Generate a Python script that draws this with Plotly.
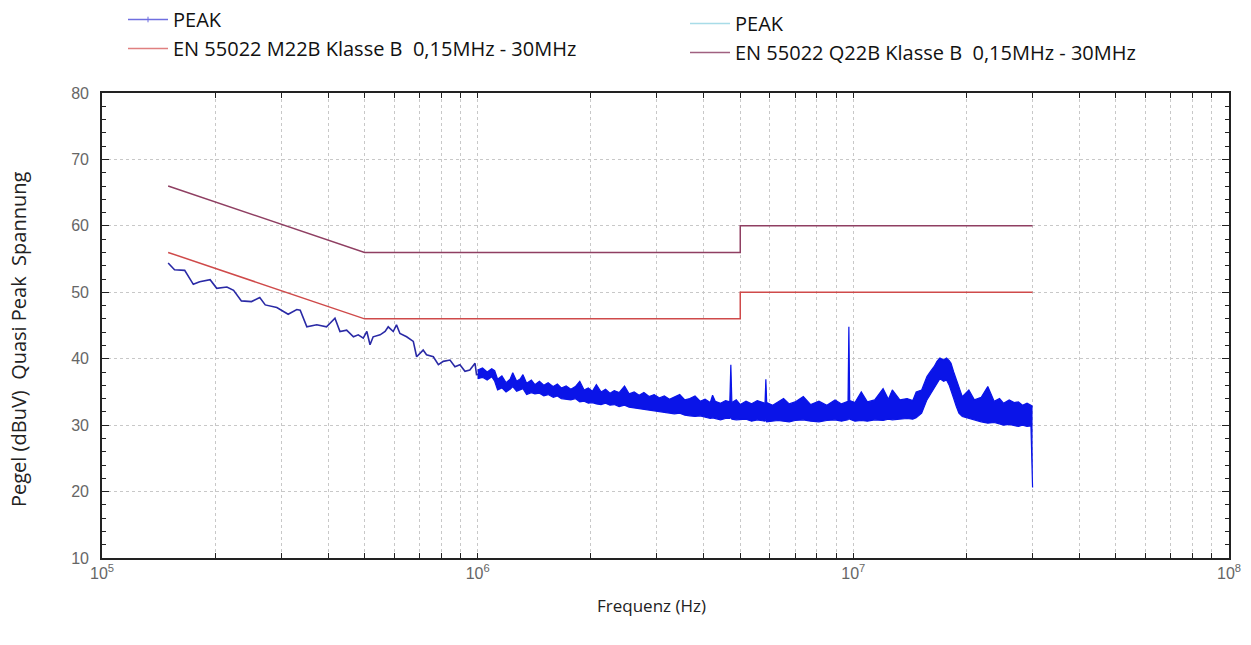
import plotly.graph_objects as go

# ---------------- data ----------------
# low-frequency part of the PEAK trace (kHz, dBuV)
lf_freq_khz = [150, 156, 166, 175, 182, 194, 202, 215, 224, 235, 250, 263, 272, 292, 313,
               330, 337, 351, 373, 396, 404, 417, 430, 448, 467, 481, 496, 507, 517, 527,
               550, 567, 578, 596, 608, 621, 647, 674, 688, 716, 731, 762, 786, 810, 844,
               870, 897, 925, 953, 984, 993, 1035, 1067]
lf_level = [54.4, 53.4, 53.3, 51.2, 51.6, 51.9, 50.6, 50.8, 50.3, 48.7, 48.6, 49.2, 48.1, 47.7, 46.7,
            47.4, 47.3, 44.8, 45.1, 44.8, 45.3, 46.1, 44.1, 44.3, 43.3, 43.6, 43.1, 44.1, 42.1, 43.3,
            43.6, 44.1, 44.8, 44.1, 45.1, 43.8, 43.3, 42.6, 40.3, 41.3, 40.6, 40.3, 39.1, 39.6, 39.8,
            38.8, 39.1, 38.1, 38.3, 39.3, 37.6, 37.7, 37.6]

# dense part of the PEAK trace: upper / lower envelope of the noise band (MHz, dBuV)
band_freq_mhz = [1.00, 1.03, 1.06, 1.09, 1.11, 1.13, 1.16, 1.19, 1.22, 1.24, 1.27, 1.30, 1.32, 1.35,
                 1.39, 1.42, 1.46, 1.50, 1.54, 1.59, 1.63, 1.67, 1.72, 1.77, 1.82, 1.87, 1.92, 1.97,
                 2.02, 2.07, 2.13, 2.19, 2.25, 2.31, 2.38, 2.46, 2.53, 2.61, 2.69, 2.77, 2.86, 2.95,
                 3.05, 3.14, 3.24, 3.34, 3.45, 3.56, 3.67, 3.79, 3.91, 4.03, 4.16, 4.22, 4.29, 4.43,
                 4.57, 4.69, 4.72, 4.75, 4.88, 5.00, 5.18, 5.36, 5.55, 5.82, 5.85, 5.88, 6.10, 6.30,
                 6.52, 6.75, 7.00, 7.36, 7.70, 8.10, 8.50, 8.94, 9.30, 9.68, 9.73, 9.78, 10.1, 10.5,
                 10.9, 11.4, 12.0, 12.4, 12.7, 13.3, 13.9, 14.4, 14.7, 15.2, 15.7, 16.1, 16.4, 16.7,
                 17.0, 17.4, 17.7, 18.0, 18.2, 18.5, 18.8, 19.1, 19.5, 20.3, 21.0, 21.9, 22.8, 23.7,
                 24.5, 25.1, 26.0, 26.8, 27.5, 28.2, 29.0, 29.7, 30.0]
band_hi = [38.3, 38.6, 38.0, 38.5, 38.2, 36.9, 37.4, 36.4, 36.9, 37.9, 36.6, 37.0, 37.6, 36.3,
           36.8, 36.1, 36.6, 36.0, 36.4, 35.8, 36.2, 35.6, 35.9, 35.4, 35.8, 36.6, 35.3, 35.6,
           35.1, 36.1, 35.0, 35.4, 34.8, 35.2, 34.9, 35.9, 34.7, 35.0, 34.5, 34.9, 34.3, 34.6,
           34.1, 34.4, 33.9, 34.2, 34.6, 33.8, 34.0, 34.4, 33.6, 33.9, 33.4, 34.5, 33.6, 33.3,
           33.7, 33.5, 39.1, 33.4, 33.8, 33.1, 33.6, 33.2, 33.7, 33.3, 36.9, 33.4, 33.0, 33.5,
           34.0, 33.2, 33.5, 34.3, 33.1, 33.6, 33.0, 33.8, 33.2, 33.6, 44.8, 33.7, 33.4, 35.0,
           33.5, 33.8, 35.5, 33.9, 35.3, 33.8, 34.0, 33.7, 35.0, 35.3, 37.3, 38.2, 38.8, 39.6,
           40.1, 39.8, 40.1, 39.7, 39.3, 38.0, 36.8, 35.5, 34.3, 35.3, 33.8, 34.2, 35.8, 33.6,
           34.0, 33.3, 33.8, 33.4, 33.5, 33.0, 33.3, 33.0, 32.8]
band_lo = [37.0, 37.2, 36.8, 37.3, 36.6, 35.3, 35.6, 35.0, 35.4, 35.8, 35.1, 35.4, 35.5, 34.6,
           34.9, 34.7, 34.8, 34.4, 34.6, 34.2, 34.4, 34.0, 33.9, 33.8, 34.0, 33.5, 33.6, 33.3,
           33.4, 33.2, 33.1, 33.3, 33.0, 33.1, 32.8, 33.0, 32.7, 32.6, 32.5, 32.4, 32.3, 32.2,
           32.1, 31.9, 31.8, 31.7, 31.8, 31.5, 31.4, 31.3, 31.4, 31.2, 31.0, 31.1, 31.0, 30.8,
           31.0, 31.0, 31.2, 30.9, 30.8, 30.8, 30.9, 30.6, 30.8, 30.6, 30.9, 30.5, 30.6, 30.7,
           30.6, 30.5, 30.7, 30.8, 30.6, 30.5, 30.7, 30.8, 30.6, 30.8, 31.0, 30.9, 30.6, 30.7,
           30.6, 30.8, 30.7, 30.9, 30.8, 30.9, 31.0, 30.9, 31.1, 31.8, 33.8, 34.8, 35.5, 36.2,
           37.0, 36.6, 36.8, 36.0, 35.3, 34.0, 32.8, 31.8, 31.3, 31.0, 30.8, 30.5, 30.3, 30.4,
           30.2, 30.0, 30.1, 29.9, 29.8, 30.0, 29.8, 29.9, 20.6]

# EN 55022 limit lines (MHz, dBuV)
limit_freq_mhz = [0.15, 0.5, 5.0, 5.0, 30.0]
limit_qp = [66, 56, 56, 60, 60]    # Q22B
limit_avg = [56, 46, 46, 50, 50]   # M22B

x_tick_decades = [1e5, 1e6, 1e7, 1e8]
y_ticks = [10, 20, 30, 40, 50, 60, 70, 80]

# ---------------- figure ----------------
BLUE_LF = "#2a2aa6"
BLUE_BAND = "#0a14e8"
RED = "#cf4a4a"
PURPLE = "#8f3f62"
FONT = "Open Sans, Lato, sans-serif"

W, H = 1251, 645
PL, PR, PT, PB = 102, 1229, 93, 558   # plot box in page px

fig = go.Figure()

fig.add_trace(go.Scatter(x=[f * 1e3 for f in lf_freq_khz], y=lf_level, mode="lines",
                         line=dict(color=BLUE_LF, width=1.6), showlegend=False, hoverinfo="skip"))
fig.add_trace(go.Scatter(x=[f * 1e6 for f in band_freq_mhz], y=band_hi, mode="lines",
                         line=dict(color=BLUE_BAND, width=1.2), showlegend=False, hoverinfo="skip"))
fig.add_trace(go.Scatter(x=[f * 1e6 for f in band_freq_mhz], y=band_lo, mode="lines",
                         line=dict(color=BLUE_BAND, width=1.2), fill="tonexty",
                         fillcolor=BLUE_BAND, showlegend=False, hoverinfo="skip"))
fig.add_trace(go.Scatter(x=[f * 1e6 for f in limit_freq_mhz], y=limit_qp, mode="lines",
                         line=dict(color=PURPLE, width=1.5), showlegend=False, hoverinfo="skip"))
fig.add_trace(go.Scatter(x=[f * 1e6 for f in limit_freq_mhz], y=limit_avg, mode="lines",
                         line=dict(color=RED, width=1.5), showlegend=False, hoverinfo="skip"))

# legend entries: two legend columns
fig.add_trace(go.Scatter(x=[None], y=[None], mode="lines+markers", name="PEAK",
                         line=dict(color="#6f6fe0", width=1.5),
                         marker=dict(symbol="line-ns-open", size=4, color="#6f6fe0"),
                         legend="legend"))
fig.add_trace(go.Scatter(x=[None], y=[None], mode="lines",
                         name="EN 55022 M22B Klasse B  0,15MHz - 30MHz",
                         line=dict(color="#e08080", width=1.5), legend="legend"))
fig.add_trace(go.Scatter(x=[None], y=[None], mode="lines", name="PEAK",
                         line=dict(color="#a8dce8", width=1.5), legend="legend2"))
fig.add_trace(go.Scatter(x=[None], y=[None], mode="lines",
                         name="EN 55022 Q22B Klasse B  0,15MHz - 30MHz",
                         line=dict(color="#a06080", width=1.5), legend="legend2"))

minor_vals = []
for d in x_tick_decades[:-1]:
    for m in range(1, 10):
        minor_vals.append(d * m)
minor_vals.append(x_tick_decades[-1])
exp_of = {1e5: 5, 1e6: 6, 1e7: 7, 1e8: 8}
tick_text = [("10<sup>%d</sup>" % exp_of[v]) if v in exp_of else "" for v in minor_vals]

LEGEND_FONT = dict(family=FONT, size=20, color="#111111")


def leg(px_x, px_top):
    return dict(xref="container", yref="container",
                x=px_x / W, y=1 - px_top / H,
                xanchor="left", yanchor="top", orientation="v", traceorder="normal",
                font=LEGEND_FONT, itemwidth=40, bgcolor="rgba(0,0,0,0)", tracegroupgap=0)


fig.update_layout(
    width=W, height=H,
    margin=dict(l=PL, r=W - PR, t=PT, b=H - PB, autoexpand=False),
    paper_bgcolor="white", plot_bgcolor="white",
    legend=leg(123, 0), legend2=leg(685, 4),
    xaxis=dict(type="log", range=[5, 8], tickvals=minor_vals, ticktext=tick_text,
               ticks="inside", ticklen=5, tickcolor="#222", tickwidth=1.3,
               showline=True, linecolor="#222", linewidth=1.6, mirror="ticks",
               showgrid=True, gridcolor="#c8c8c8", griddash="dot", gridwidth=1,
               tickfont=dict(family="Liberation Sans, Arial", size=16, color="#666"),
               zeroline=False),
    yaxis=dict(range=[10, 80], tickvals=y_ticks,
               ticks="inside", ticklen=7, tickcolor="#222", tickwidth=1.3,
               minor=dict(dtick=2, ticks="inside", ticklen=4, tickcolor="#222", showgrid=False),
               showline=True, linecolor="#222", linewidth=1.6, mirror="ticks",
               showgrid=True, gridcolor="#c8c8c8", griddash="dot", gridwidth=1,
               tickfont=dict(family="Liberation Sans, Arial", size=16, color="#666"),
               ticklabelstandoff=8, zeroline=False),
    annotations=[
        dict(text="Pegel (dBuV)  Quasi Peak  Spannung", textangle=-90,
             xref="paper", yref="paper", x=0, y=(PB - 340) / (PB - PT),
             xanchor="center", yanchor="middle", xshift=-84, showarrow=False,
             font=dict(family=FONT, size=20, color="#222")),
        dict(text="Frequenz (Hz)", xref="paper", yref="paper",
             x=(651 - PL) / (PR - PL), y=-(605 - PB) / (PB - PT),
             xanchor="center", yanchor="middle", showarrow=False,
             font=dict(family=FONT, size=17, color="#222")),
    ],
)

fig.write_html("out.html", config={"displayModeBar": False},
               post_script="document.body.style.margin='0px';")
